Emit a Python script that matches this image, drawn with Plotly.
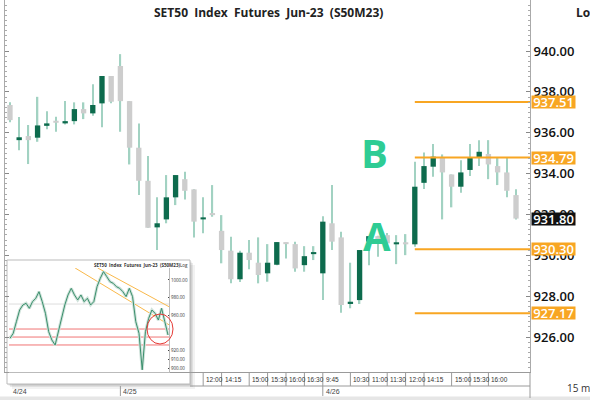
import plotly.graph_objects as go

# ---------------- data ----------------
times = (["12:15", "14:15", "14:30", "14:45", "15:00", "15:15", "15:30", "15:45", "16:00", "16:15", "16:30", "16:45"]
         + ["9:45", "10:00", "10:15", "10:30", "10:45", "11:00", "11:15", "11:30", "11:45", "12:00", "12:15",
            "14:15", "14:30", "14:45", "15:00", "15:15", "15:30", "15:45", "16:00", "16:15", "16:30", "16:45"]
         + ["9:45", "10:00", "10:15", "10:30", "10:45", "11:00", "11:15", "11:30", "11:45", "12:00", "12:15",
            "14:15", "14:30", "14:45", "15:00", "15:15", "15:30", "15:45", "16:00", "16:15", "16:30", "16:45"])

opens = [937.36, 935.64, 935.84, 935.76, 936.34, 936.51, 936.46, 936.57, 937.16, 936.95, 937.44, 938.78,
         939.27, 937.55, 935.27, 933.65, 931.37, 931.76, 932.84, 933.73, 933.23, 931.76, 931.99,
         931.20, 930.23, 928.83, 930.13, 929.64, 929.12, 929.54, 930.62, 930.55, 929.52, 930.06,
         929.12, 931.57, 930.88, 927.62, 927.81, 930.67, 930.94, 930.99, 930.54, 930.64, 930.54,
         933.55, 934.34, 934.78, 933.96, 933.36, 934.18, 934.78, 934.96, 934.37, 934.06, 932.95]
highs = [937.50, 936.77, 936.38, 937.76, 937.06, 936.78, 937.55, 937.49, 937.49, 938.38, 938.78, 938.78,
         939.85, 937.55, 936.46, 934.86, 932.84, 933.93, 933.93, 934.09, 933.23, 932.84, 933.44,
         931.97, 930.91, 930.23, 930.75, 930.88, 930.55, 930.65, 930.62, 930.67, 930.45, 930.45,
         931.92, 933.44, 931.16, 929.64, 930.26, 930.94, 930.96, 931.10, 930.99, 931.04, 934.58,
         935.04, 935.45, 934.94, 933.96, 934.66, 935.45, 935.64, 935.64, 934.78, 934.78, 933.23]
lows = [936.52, 935.15, 934.47, 935.56, 936.17, 936.05, 936.41, 936.41, 936.67, 936.83, 936.27, 937.44,
        936.05, 934.45, 932.95, 931.35, 930.26, 931.57, 932.46, 932.74, 930.88, 931.08, 931.89,
        929.61, 928.63, 928.70, 929.32, 928.63, 928.71, 929.52, 929.85, 929.20, 929.20, 929.77,
        927.81, 930.26, 927.19, 927.41, 927.62, 929.52, 929.93, 930.30, 929.57, 930.01, 930.42,
        933.25, 933.85, 931.76, 932.35, 933.06, 933.88, 934.37, 933.73, 933.44, 932.84, 931.76]
closes = [936.62, 935.78, 935.64, 936.36, 936.46, 936.49, 936.57, 937.16, 936.95, 937.36, 938.78, 937.52,
          937.55, 935.27, 933.65, 931.35, 931.57, 932.84, 933.93, 933.16, 931.65, 931.86, 931.97,
          930.26, 928.83, 930.13, 929.77, 929.04, 929.64, 930.65, 930.55, 929.36, 929.96, 930.13,
          931.65, 930.67, 927.57, 927.73, 930.26, 930.94, 930.70, 930.59, 930.64, 930.54, 933.36,
          934.37, 934.83, 934.06, 933.36, 934.06, 934.80, 935.07, 934.45, 934.06, 933.16, 931.80]

level_prices = [937.51, 934.79, 930.30, 927.17]
level_start = 44
last_price = 931.80

ytick_vals = [926, 928, 930, 932, 934, 936, 938, 940]

# x-axis labels (index of candle, text)
xlabel_idx = [21, 23, 26, 28, 30, 32, 34, 37, 39, 41, 43, 45, 48, 50, 52]
date_idx = [0, 12, 34]
date_text = ["4/24", "4/25", "4/26"]

# inset (larger time-frame view)
inset_close = [933.7, 939.4, 952.7, 965.9, 971.6, 973.5, 967.8, 975.4, 979.2, 986.7, 975.4, 962.1, 941.3,
               931.8, 926.1, 941.3, 954.5, 971.6, 983.0, 990.5, 983.0, 977.3, 983.0, 975.4, 979.2, 971.6,
               975.4, 992.4, 1001.9, 1009.5, 1003.8, 998.1, 996.2, 992.4, 990.5, 986.7, 981.1, 990.5,
               981.1, 952.7, 939.4, 898.0, 941.3, 956.4, 965.9, 962.1, 954.5, 967.8, 952.7, 937.5]
inset_ticks = [900, 910, 920, 960, 980, 1000]
inset_red_levels = [944.3, 935.2, 926.2]
inset_gray_level = 972.7
inset_chan_upper_x = [27.2, 49.3]
inset_chan_upper_y = [1013.6, 969.65]
inset_chan_lower_x = [20.2, 49.3]
inset_chan_lower_y = [1013.6, 949.1]

# ---------------- styling helpers ----------------
W, H = 590, 400
L, R = 5, 530
XR = [-0.54, 56.52]
YR = [924.29, 942.50]
UP = "#0d6b4d"
DOWN = "#cdcdcd"
WICK = "#a2d2c2"
ORANGE = "#f8a623"
TEAL = "#2ecc94"


def px(x):
    return (x - L) / (R - L)


def py(y):
    return (H - y) / H


def idx2px(i):
    return L + (i - XR[0]) / (XR[1] - XR[0]) * (R - L)


n = len(closes)
idx = list(range(n))

fig = go.Figure()

# wicks
fig.add_trace(go.Bar(x=idx, base=lows, y=[h - l for h, l in zip(highs, lows)], width=0.16,
                     marker=dict(color=WICK, line=dict(width=0)), hoverinfo="skip"))
# bodies
body_base = [min(o, c) for o, c in zip(opens, closes)]
body_h = [max(abs(c - o), 0.1) for o, c in zip(opens, closes)]
body_col = [UP if c > o else DOWN for o, c in zip(opens, closes)]
fig.add_trace(go.Bar(x=idx, base=body_base, y=body_h, width=0.58,
                     marker=dict(color=body_col, line=dict(width=0))))

# horizontal levels
for lp in level_prices:
    fig.add_trace(go.Scatter(x=[level_start, XR[1]], y=[lp, lp], mode="lines",
                             line=dict(color=ORANGE, width=2), hoverinfo="skip"))

# ---------------- inset ----------------
ni = len(inset_close)
ix = list(range(ni))
for lv in inset_red_levels:
    fig.add_trace(go.Scatter(x=[-0.3, ni - 0.7], y=[lv, lv], mode="lines", xaxis="x2", yaxis="y2",
                             line=dict(color="#f07474", width=1)))
fig.add_trace(go.Scatter(x=[-0.3, ni - 0.7], y=[inset_gray_level] * 2, mode="lines", xaxis="x2", yaxis="y2",
                         line=dict(color="#dddddd", width=1)))
fig.add_trace(go.Scatter(x=inset_chan_upper_x, y=inset_chan_upper_y, mode="lines", xaxis="x2", yaxis="y2",
                         line=dict(color="#f9b84a", width=1)))
fig.add_trace(go.Scatter(x=inset_chan_lower_x, y=inset_chan_lower_y, mode="lines", xaxis="x2", yaxis="y2",
                         line=dict(color="#f9b84a", width=1)))
fig.add_trace(go.Scatter(x=ix, y=inset_close, mode="lines", xaxis="x2", yaxis="y2",
                         line=dict(color="#cfe2da", width=3)))
fig.add_trace(go.Scatter(x=ix, y=inset_close, mode="lines", xaxis="x2", yaxis="y2",
                         line=dict(color="#3a8f6c", width=1)))

shapes = []
# inset shadow + panel
for off, a in [(5, 0.05), (3, 0.08), (1.5, 0.12)]:
    shapes.append(dict(type="rect", xref="paper", yref="paper", x0=px(7 + off), x1=px(190 + off),
                       y0=py(384 + off), y1=py(260 + off), line=dict(width=0),
                       fillcolor=f"rgba(0,0,0,{a})", layer="below"))
shapes.append(dict(type="rect", xref="paper", yref="paper", x0=px(7), x1=px(190), y0=py(384), y1=py(260),
                   line=dict(color="#bbbbbb", width=1), fillcolor="white", layer="below"))
# red circle in inset
shapes.append(dict(type="circle", xref="paper", yref="paper", x0=px(147), x1=px(173), y0=py(344), y1=py(314),
                   line=dict(color="#e53935", width=1)))

# bottom label rows
shapes.append(dict(type="line", xref="paper", yref="paper", x0=px(190), x1=px(R), y0=py(386), y1=py(386),
                   line=dict(color="#9a9a9a", width=1)))
shapes.append(dict(type="line", xref="paper", yref="paper", x0=px(R), x1=px(R), y0=py(398), y1=py(372),
                   line=dict(color="#9a9a9a", width=1)))
shapes.append(dict(type="rect", xref="paper", yref="paper", x0=px(0), x1=px(590), y0=py(400), y1=py(396.5),
                   line=dict(width=0), fillcolor="#e6e6e6", layer="below"))

annotations = []
for i in xlabel_idx:
    xp = idx2px(i)
    shapes.append(dict(type="line", xref="paper", yref="paper", x0=px(xp), x1=px(xp), y0=py(386), y1=py(372),
                       line=dict(color="#9a9a9a", width=1)))
    annotations.append(dict(xref="paper", yref="paper", x=px(xp + 1), y=py(379), text=times[i],
                            showarrow=False, xanchor="left", yanchor="middle",
                            font=dict(family="Liberation Sans, Arial", size=6.5, color="#333")))
for i, t in zip(date_idx, date_text):
    xp = idx2px(i)
    if i > 0:
        shapes.append(dict(type="line", xref="paper", yref="paper", x0=px(xp), x1=px(xp), y0=py(396), y1=py(386),
                           line=dict(color="#9a9a9a", width=1)))
    annotations.append(dict(xref="paper", yref="paper", x=px(xp + 1), y=py(391), text=t,
                            showarrow=False, xanchor="left", yanchor="middle",
                            font=dict(family="Liberation Sans, Arial", size=7, color="#444")))

# title & corner texts
annotations.append(dict(xref="paper", yref="paper", x=px(268), y=py(12), yanchor="middle",
                        text="SET50  Index  Futures  Jun-23  (S50M23)", showarrow=False,
                        font=dict(family="Open Sans", size=12, color="#222", weight="bold")))
annotations.append(dict(xref="paper", yref="paper", x=px(574), y=py(12), text="Log", showarrow=False,
                        xanchor="left", yanchor="middle",
                        font=dict(family="Open Sans", size=12, color="#222", weight="bold")))
annotations.append(dict(xref="paper", yref="paper", x=px(565), y=py(388), text="15 min", showarrow=False,
                        xanchor="left", yanchor="middle",
                        font=dict(family="Open Sans", size=10, color="#333")))

# price labels
for lp in level_prices:
    annotations.append(dict(xref="paper", yref="y", x=px(531), y=lp, text=f"{lp:.2f}", showarrow=False,
                            xanchor="left", yanchor="middle", bgcolor=ORANGE, borderpad=0, height=12, width=43,
                            font=dict(family="Open Sans", size=13, color="white", weight=600)))
annotations.append(dict(xref="paper", yref="y", x=px(531), y=last_price, text=f"{last_price:.2f}",
                        showarrow=False, xanchor="left", yanchor="middle", bgcolor="#111", borderpad=0,
                        height=12, width=43,
                        font=dict(family="Open Sans", size=13, color="white", weight=600)))

# A / B
annotations.append(dict(xref="paper", yref="paper", x=px(390), y=py(153), text="B", showarrow=False,
                        yanchor="middle",
                        font=dict(family="Open Sans", size=40, color=TEAL, weight="bold")))
annotations.append(dict(xref="paper", yref="paper", x=px(393), y=py(235), text="A", showarrow=False,
                        yanchor="middle",
                        font=dict(family="Open Sans", size=40, color=TEAL, weight="bold")))

# inset texts
annotations.append(dict(xref="paper", yref="paper", x=px(92), y=py(265), yanchor="middle",
                        text="SET50  Index  Futures  Jun-23  (S50M23)", showarrow=False,
                        font=dict(family="Open Sans", size=4.5, color="#333", weight="bold")))
annotations.append(dict(xref="paper", yref="paper", x=px(184), y=py(265), text="Log", showarrow=False,
                        yanchor="middle", font=dict(family="Open Sans", size=4.5, color="#333")))
inset_labels = [(inset_chan_upper_y[1], "#f9a825", "white"), (inset_chan_lower_y[1], "#f9a825", "white"),
                (inset_red_levels[0], "#f26a6a", "white"), (inset_red_levels[1], "#f26a6a", "white"),
                (inset_close[-1] - 3.5, "#111", "white"), (inset_red_levels[2], "#f26a6a", "white")]
for v, bg, fc in inset_labels:
    annotations.append(dict(xref="x2", yref="y2", x=ni - 0.5, y=v, text=f"{v:.2f}", showarrow=False,
                            xanchor="left", yanchor="middle", bgcolor=bg, borderpad=0, height=5,
                            font=dict(family="Open Sans", size=4.5, color=fc)))

fig.update_layout(
    width=W, height=H, margin=dict(l=L, r=W - R, t=0, b=0),
    paper_bgcolor="white", plot_bgcolor="rgba(0,0,0,0)",
    showlegend=False, barmode="overlay",
    xaxis=dict(domain=[0, 1], range=XR, showgrid=False, zeroline=False, showticklabels=False,
               showline=True, linecolor="#9a9a9a", linewidth=1, ticks=""),
    yaxis=dict(domain=[py(372), 1], range=YR, side="right", showgrid=False, zeroline=False,
               tickvals=ytick_vals, ticktext=[f"{v:.2f}" for v in ytick_vals],
               tickfont=dict(family="Open Sans", size=13, color="#111", weight=600),
               ticks="inside", ticklen=4, tickcolor="#888",
               minor=dict(dtick=0.25, ticks="inside", ticklen=2, tickcolor="#aaa"),
               showline=True, linecolor="#aaaaaa", linewidth=1, mirror="allticks"),
    xaxis2=dict(domain=[px(9), px(169)], range=[-0.3, ni - 0.7], anchor="y2", showgrid=False,
                zeroline=False, showticklabels=False, showline=True, linecolor="#bbb", linewidth=1),
    yaxis2=dict(domain=[py(372), py(268)], range=[895.5, 1013.6], anchor="x2", side="right",
                showgrid=False, zeroline=False, tickvals=inset_ticks,
                ticktext=[f"{v:.2f}" for v in inset_ticks],
                tickfont=dict(family="Open Sans", size=4.5, color="#333"),
                showline=True, linecolor="#bbb", linewidth=1, ticks="inside", ticklen=1),
    shapes=shapes, annotations=annotations,
)

fig.write_html("out.html", config={"displayModeBar": False},
               post_script="document.body.style.margin='0px';document.body.style.padding='0px';")
